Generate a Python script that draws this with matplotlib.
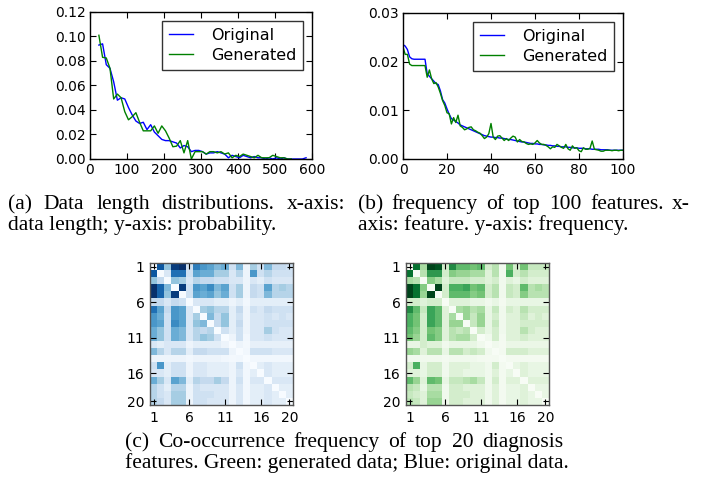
import matplotlib
matplotlib.use('Agg')
import matplotlib.pyplot as plt
import numpy as np

# ---- data ----
# (a) data length distribution
LEN_X = list(range(24, 594, 10))
LEN_ORIG = [0.093, 0.094, 0.077, 0.074, 0.063, 0.048, 0.050, 0.049, 0.042, 0.036,
            0.031, 0.029, 0.030, 0.024, 0.028, 0.022, 0.019, 0.016, 0.015, 0.015,
            0.014, 0.013, 0.009, 0.011, 0.010, 0.006, 0.007, 0.007, 0.006, 0.004,
            0.005, 0.005, 0.006, 0.005, 0.004, 0.001, 0.003, 0.002, 0.001, 0.003,
            0.002, 0.001, 0.002, 0.001, 0.001, 0.000, 0.001, 0.000, 0.001, 0.000,
            0.001, 0.000, 0.000, 0.000, 0.000, 0.000, 0.001]
LEN_GEN = [0.101, 0.083, 0.0825, 0.074, 0.049, 0.053, 0.050, 0.0386, 0.032, 0.0345,
           0.0378, 0.030, 0.023, 0.023, 0.023, 0.027, 0.021, 0.027, 0.023, 0.017,
           0.010, 0.0105, 0.015, 0.005, 0.015, 0.000, 0.006, 0.006, 0.006, 0.004,
           0.006, 0.006, 0.005, 0.006, 0.004, 0.005, 0.001, 0.003, 0.002, 0.004,
           0.003, 0.002, 0.001, 0.003, 0.001, 0.001, 0.001, 0.003, 0.002, 0.001,
           0.001, 0.000, 0.000]

# (b) frequency of top 100 features
FEAT_X = list(range(0, 101))
FEAT_ORIG = [0.0235, 0.0232, 0.0225, 0.0210, 0.0206, 0.0205, 0.0205, 0.0205, 0.0205, 0.0205,
             0.0205, 0.0175, 0.0170, 0.0165, 0.0160, 0.0155, 0.0153, 0.0140, 0.0122, 0.0115,
             0.0103, 0.0092, 0.0083, 0.0080, 0.0077, 0.0074, 0.0070, 0.0068, 0.0066, 0.0064,
             0.0062, 0.0060, 0.0058, 0.0056, 0.0054, 0.0052, 0.0050, 0.0048, 0.0047, 0.0046,
             0.0045, 0.0045, 0.0044, 0.0044, 0.0043, 0.0043, 0.0042, 0.0041, 0.0040, 0.0040,
             0.0039, 0.0038, 0.0037, 0.0036, 0.0035, 0.0035, 0.0034, 0.0033, 0.0032, 0.0032,
             0.0031, 0.0031, 0.0030, 0.0030, 0.0029, 0.0029, 0.0028, 0.0028, 0.0027, 0.0027,
             0.0026, 0.0026, 0.0025, 0.0025, 0.0025, 0.0024, 0.0024, 0.0023, 0.0023, 0.0023,
             0.0022, 0.0022, 0.0022, 0.0021, 0.0021, 0.0021, 0.0020, 0.0020, 0.0020, 0.0020,
             0.0019, 0.0019, 0.0019, 0.0019, 0.0018, 0.0018, 0.0018, 0.0018, 0.0018, 0.0018,
             0.0018]
FEAT_GEN = [0.0230, 0.0215, 0.0215, 0.0195, 0.0192, 0.0192, 0.0192, 0.0192, 0.0192, 0.0192,
            0.0192, 0.0168, 0.0183, 0.0165, 0.0155, 0.0157, 0.0148, 0.0135, 0.0120, 0.0110,
            0.0095, 0.0093, 0.0072, 0.0085, 0.0075, 0.0090, 0.0068, 0.0065, 0.0060, 0.0062,
            0.0065, 0.0066, 0.0060, 0.0058, 0.0055, 0.0053, 0.0048, 0.0042, 0.0045, 0.0052,
            0.0073, 0.0045, 0.0040, 0.0047, 0.0048, 0.0043, 0.0038, 0.0042, 0.0038, 0.0043,
            0.0047, 0.0045, 0.0035, 0.0040, 0.0036, 0.0035, 0.0032, 0.0030, 0.0031, 0.0030,
            0.0033, 0.0038, 0.0033, 0.0030, 0.0030, 0.0028, 0.0025, 0.0021, 0.0025, 0.0024,
            0.0030, 0.0027, 0.0024, 0.0022, 0.0030, 0.0021, 0.0018, 0.0027, 0.0022, 0.0023,
            0.0017, 0.0015, 0.0023, 0.0020, 0.0020, 0.0022, 0.0037, 0.0020, 0.0019, 0.0018,
            0.0016, 0.0016, 0.0018, 0.0018, 0.0018, 0.0017, 0.0018, 0.0018, 0.0017, 0.0018,
            0.0018]

# (c) co-occurrence of top 20 diagnosis features (percent of max)
COOC_ORIG = [
    [0, 85, 40, 95, 100, 20, 70, 60, 55, 45, 50, 20, 45, 5, 35, 20, 45, 25, 25, 20],
    [85, 0, 15, 75, 75, 20, 55, 50, 50, 35, 35, 15, 30, 5, 60, 20, 30, 20, 20, 20],
    [40, 25, 0, 40, 35, 15, 30, 25, 25, 20, 20, 15, 15, 5, 15, 10, 20, 15, 15, 15],
    [100, 80, 45, 0, 95, 20, 60, 55, 65, 45, 55, 20, 35, 5, 25, 20, 55, 30, 35, 30],
    [100, 80, 40, 95, 0, 20, 55, 50, 55, 40, 50, 20, 35, 5, 25, 20, 45, 30, 30, 30],
    [25, 25, 15, 25, 20, 0, 15, 15, 15, 10, 10, 5, 10, 3, 10, 10, 10, 10, 10, 10],
    [75, 55, 25, 60, 55, 15, 0, 35, 40, 30, 30, 10, 25, 5, 20, 15, 25, 20, 20, 20],
    [60, 50, 20, 60, 55, 15, 35, 0, 45, 25, 40, 10, 20, 5, 15, 15, 20, 15, 20, 15],
    [60, 55, 20, 65, 55, 15, 40, 45, 0, 25, 40, 10, 25, 5, 15, 15, 20, 20, 20, 20],
    [50, 40, 20, 50, 45, 15, 30, 25, 30, 0, 20, 10, 20, 5, 15, 15, 35, 20, 15, 15],
    [50, 40, 20, 50, 45, 15, 30, 40, 35, 20, 0, 5, 20, 3, 15, 15, 20, 15, 15, 15],
    [15, 10, 15, 15, 15, 5, 10, 10, 10, 10, 5, 0, 5, 2, 8, 8, 8, 8, 8, 8],
    [45, 30, 15, 30, 30, 10, 25, 25, 20, 20, 20, 5, 0, 3, 20, 20, 20, 15, 15, 15],
    [5, 5, 5, 5, 5, 3, 5, 5, 5, 5, 3, 2, 3, 0, 3, 3, 3, 3, 3, 3],
    [20, 60, 10, 20, 20, 5, 15, 15, 10, 10, 10, 5, 20, 3, 0, 10, 15, 10, 10, 10],
    [15, 15, 10, 20, 20, 5, 15, 15, 10, 10, 10, 5, 15, 3, 10, 0, 15, 10, 10, 10],
    [50, 35, 15, 55, 45, 10, 30, 25, 25, 35, 25, 5, 20, 3, 15, 15, 0, 15, 15, 15],
    [30, 20, 10, 30, 30, 5, 20, 15, 15, 15, 15, 5, 15, 3, 10, 10, 15, 0, 10, 10],
    [30, 20, 15, 35, 35, 5, 20, 20, 20, 15, 15, 5, 15, 3, 10, 10, 15, 10, 0, 10],
    [30, 25, 15, 35, 35, 5, 20, 20, 15, 15, 15, 5, 15, 3, 10, 10, 15, 10, 10, 0],
]
COOC_GEN = [
    [0, 85, 35, 100, 95, 20, 75, 55, 55, 50, 55, 20, 30, 5, 50, 20, 50, 25, 25, 25],
    [85, 0, 30, 70, 70, 20, 45, 40, 40, 35, 35, 15, 30, 5, 60, 20, 30, 20, 20, 20],
    [35, 30, 0, 45, 35, 15, 25, 25, 25, 20, 20, 15, 20, 5, 15, 10, 20, 15, 15, 15],
    [100, 85, 45, 0, 100, 20, 60, 60, 65, 50, 55, 20, 30, 5, 25, 20, 55, 30, 35, 30],
    [100, 85, 40, 100, 0, 20, 55, 55, 55, 45, 50, 20, 30, 5, 25, 20, 45, 30, 30, 30],
    [20, 20, 15, 20, 20, 0, 15, 15, 15, 10, 10, 5, 10, 3, 10, 10, 10, 10, 10, 10],
    [75, 55, 25, 65, 55, 15, 0, 35, 40, 30, 35, 10, 25, 5, 20, 15, 30, 20, 20, 20],
    [60, 50, 20, 65, 55, 15, 35, 0, 40, 25, 40, 10, 20, 5, 15, 15, 25, 15, 20, 15],
    [60, 50, 20, 65, 55, 15, 40, 40, 0, 25, 40, 10, 25, 5, 15, 15, 20, 20, 20, 20],
    [55, 45, 20, 50, 45, 15, 30, 25, 30, 0, 20, 10, 20, 5, 15, 15, 30, 20, 15, 15],
    [50, 40, 20, 55, 45, 15, 30, 35, 35, 20, 0, 5, 20, 3, 15, 15, 20, 15, 15, 15],
    [10, 10, 20, 15, 15, 5, 10, 10, 10, 10, 5, 0, 5, 2, 8, 8, 8, 8, 8, 8],
    [40, 35, 15, 30, 30, 10, 30, 30, 20, 25, 20, 5, 0, 3, 20, 20, 20, 15, 15, 15],
    [5, 5, 5, 5, 5, 3, 5, 5, 5, 5, 3, 2, 3, 0, 3, 3, 3, 3, 3, 3],
    [20, 60, 10, 20, 20, 5, 15, 15, 15, 10, 10, 5, 20, 3, 0, 10, 15, 10, 10, 10],
    [15, 15, 10, 20, 20, 5, 15, 15, 10, 10, 10, 5, 15, 3, 10, 0, 15, 10, 10, 10],
    [55, 40, 15, 55, 50, 10, 25, 25, 30, 35, 25, 5, 20, 3, 15, 15, 0, 15, 15, 15],
    [30, 25, 10, 30, 30, 5, 20, 20, 15, 15, 15, 5, 15, 3, 10, 10, 15, 0, 10, 10],
    [25, 20, 15, 35, 35, 5, 20, 20, 20, 15, 15, 5, 15, 3, 10, 10, 15, 10, 0, 10],
    [30, 25, 15, 40, 40, 5, 20, 20, 15, 15, 15, 5, 15, 3, 10, 10, 15, 10, 10, 0],
]
HEAT_TICKS = [1, 6, 11, 16, 20]

# ---- style (old matplotlib look) ----
plt.rcParams.update({
    'font.size': 10,
    'xtick.direction': 'in', 'ytick.direction': 'in',
    'xtick.top': True, 'ytick.right': True,
    'xtick.major.size': 4, 'ytick.major.size': 4,
    'xtick.major.pad': 3, 'ytick.major.pad': 3,
    'axes.linewidth': 1.0,
})

W, H = 712, 482
fig = plt.figure(figsize=(W / 100, H / 100), dpi=100)
fig.patch.set_facecolor('white')


def px_axes(x0, y0, x1, y1):
    # pixel box (top-left origin) -> figure axes
    return fig.add_axes([x0 / W, 1 - y1 / H, (x1 - x0) / W, (y1 - y0) / H])


def add_legend(ax):
    leg = ax.legend(loc='upper right', fontsize=11.5, frameon=True, fancybox=False,
                    handlelength=1.5, handletextpad=1.1, labelspacing=0.3,
                    borderpad=0.45, borderaxespad=0.55)
    leg.get_frame().set_edgecolor('black')
    leg.get_frame().set_linewidth(1.0)


# (a)
ax1 = px_axes(90, 12, 312, 159)
ax1.plot(LEN_X[:len(LEN_ORIG)], LEN_ORIG, color='b', lw=1, label='Original')
ax1.plot(LEN_X[:len(LEN_GEN)], LEN_GEN, color='g', lw=1, label='Generated')
ax1.set_xlim(0, 600)
ax1.set_ylim(0, 0.12)
ax1.set_xticks(range(0, 601, 100))
ax1.set_yticks(np.arange(0, 0.121, 0.02))
ax1.yaxis.set_major_formatter(matplotlib.ticker.FormatStrFormatter('%.2f'))
add_legend(ax1)

# (b)
ax2 = px_axes(403, 13, 623, 159)
ax2.plot(FEAT_X, FEAT_ORIG, color='b', lw=1, label='Original')
ax2.plot(FEAT_X, FEAT_GEN, color='g', lw=1, label='Generated')
ax2.set_xlim(0, 100)
ax2.set_ylim(0, 0.03)
ax2.set_xticks(range(0, 101, 20))
ax2.set_yticks([0, 0.01, 0.02, 0.03])
ax2.yaxis.set_major_formatter(matplotlib.ticker.FormatStrFormatter('%.2f'))
add_legend(ax2)

# (c) heatmaps
for mat, cmap, box in [(COOC_ORIG, 'Blues', (150, 263, 293, 405)),
                       (COOC_GEN, 'Greens', (406, 263, 549, 405))]:
    ax = px_axes(*box)
    ax.imshow(np.array(mat) / 100.0, cmap=cmap, vmin=0, vmax=1,
              interpolation='nearest', aspect='auto')
    ax.set_xticks([t - 1 for t in HEAT_TICKS])
    ax.set_yticks([t - 1 for t in HEAT_TICKS])
    ax.set_xticklabels(HEAT_TICKS)
    ax.set_yticklabels(HEAT_TICKS)
    ax.tick_params(pad=4)
    for s in ax.spines.values():
        s.set_color('#555555')

# ---- captions (justified serif text) ----
SERIF = 'Liberation Serif'
CAP_FS = 15.5
renderer = fig.canvas.get_renderer()


def justified(line, x0, x1, ybase):
    words = line.split(' ')
    ts = [fig.text(0, 1 - ybase / H, w, fontsize=CAP_FS, family=SERIF, va='baseline')
          for w in words]
    widths = [t.get_window_extent(renderer).width for t in ts]
    gap = (x1 - x0 - sum(widths)) / (len(words) - 1)
    x = x0
    for t, w in zip(ts, widths):
        t.set_x(x / W)
        x += w + gap


def plain(line, x0, ybase):
    fig.text(x0 / W, 1 - ybase / H, line, fontsize=CAP_FS, family=SERIF, va='baseline')


justified('(a) Data length distributions. x-axis:', 8, 345, 209)
plain('data length; y-axis: probability.', 8, 230)
justified('(b) frequency of top 100 features. x-', 358, 690, 209)
plain('axis: feature. y-axis: frequency.', 358, 230)
justified('(c) Co-occurrence frequency of top 20 diagnosis', 125, 563, 447)
plain('features. Green: generated data; Blue: original data.', 125, 468)

fig.savefig('out.png', dpi=100, facecolor='white')
